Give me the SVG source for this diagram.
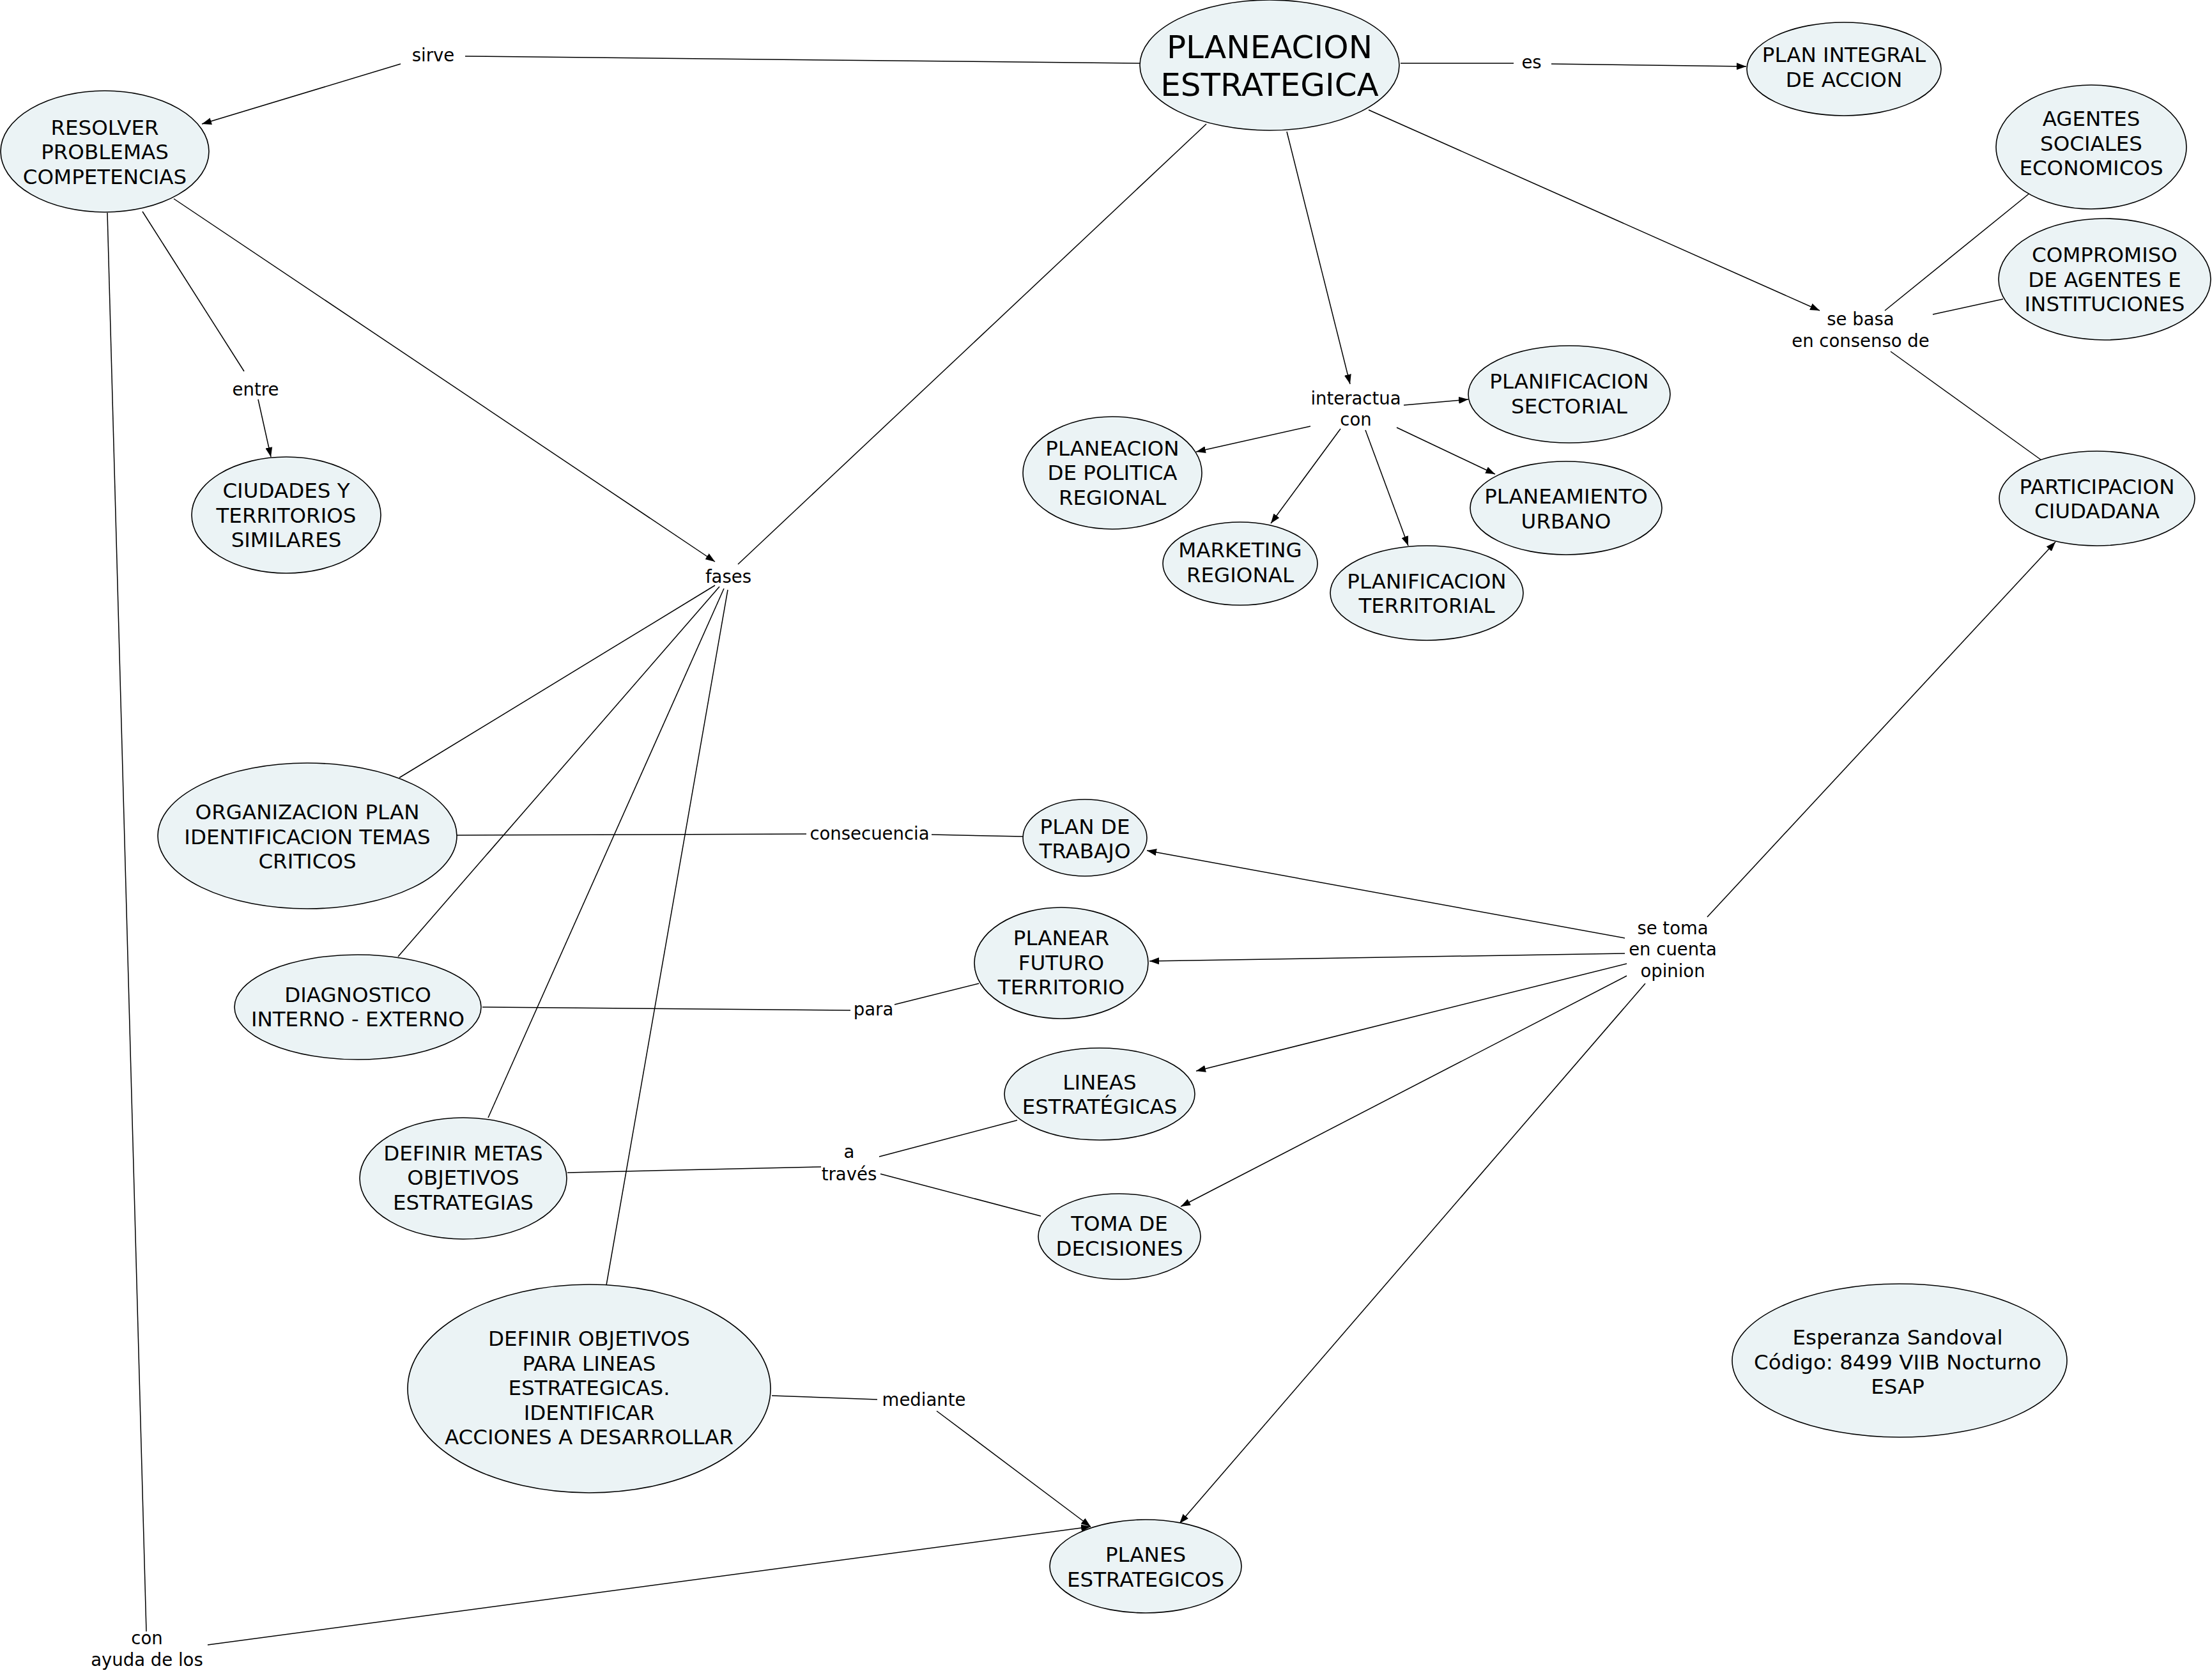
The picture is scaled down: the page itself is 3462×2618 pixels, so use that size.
<svg xmlns="http://www.w3.org/2000/svg" width="3462" height="2618" viewBox="0 0 3462 2618">
<defs>
<style>
.n ellipse{fill:#ebf3f5;stroke:#000;stroke-width:1.6}
.n text{font-family:"DejaVu Sans","Liberation Sans",sans-serif;font-size:32.5px;text-anchor:middle;fill:#000}
.l text{font-family:"DejaVu Sans","Liberation Sans",sans-serif;font-size:27.5px;text-anchor:middle;fill:#000}
#connectors line{stroke:#000;stroke-width:1.5;fill:none}
#connectors line.a{marker-end:url(#ah)}
</style>
<marker id="ah" markerWidth="15" markerHeight="11" refX="15" refY="5.5" orient="auto" markerUnits="userSpaceOnUse">
<path d="M0,0 L15,5.5 L0,11 z" fill="#000"/>
</marker>
</defs>
<rect width="3462" height="2618" fill="#fff"/>

<g id="connectors">
<line x1="1786" y1="99" x2="728" y2="88"/>
<line class="a" x1="627" y1="100" x2="316" y2="194"/>
<line x1="2192" y1="99" x2="2369" y2="99"/>
<line class="a" x1="2428" y1="100" x2="2733" y2="104"/>
<line class="a" x1="2014" y1="206" x2="2113" y2="601"/>
<line class="a" x1="2197" y1="634" x2="2298" y2="625"/>
<line class="a" x1="2051" y1="667" x2="1872" y2="707"/>
<line class="a" x1="2098" y1="671" x2="1989" y2="819"/>
<line class="a" x1="2137" y1="673" x2="2204" y2="854"/>
<line class="a" x1="2186" y1="669" x2="2340" y2="742"/>
<line class="a" x1="2142" y1="172" x2="2848" y2="486"/>
<line x1="2950" y1="486" x2="3182" y2="298"/>
<line x1="3025" y1="492" x2="3135" y2="468"/>
<line x1="2959" y1="550" x2="3195" y2="720"/>
<line x1="223" y1="331" x2="382" y2="581"/>
<line class="a" x1="404" y1="625" x2="424" y2="715"/>
<line class="a" x1="272" y1="311" x2="1119" y2="879"/>
<line x1="1888" y1="194" x2="1155" y2="883"/>
<line x1="1119" y1="916" x2="625" y2="1217"/>
<line x1="1126" y1="918" x2="623" y2="1497"/>
<line x1="1133" y1="921" x2="764" y2="1749"/>
<line x1="1139" y1="923" x2="949" y2="2011"/>
<line x1="715" y1="1307" x2="1262" y2="1305"/>
<line x1="1458" y1="1306" x2="1601" y2="1309"/>
<line x1="755" y1="1576" x2="1331" y2="1581"/>
<line x1="1400" y1="1572" x2="1532" y2="1539"/>
<line x1="888" y1="1835" x2="1285" y2="1826"/>
<line x1="1376" y1="1810" x2="1592" y2="1753"/>
<line x1="1378" y1="1837" x2="1629" y2="1903"/>
<line class="a" x1="2672" y1="1435" x2="3217" y2="848"/>
<line class="a" x1="2543" y1="1468" x2="1795" y2="1331"/>
<line class="a" x1="2543" y1="1492" x2="1799" y2="1504"/>
<line class="a" x1="2546" y1="1508" x2="1872" y2="1676"/>
<line class="a" x1="2546" y1="1527" x2="1848" y2="1888"/>
<line class="a" x1="2575" y1="1539" x2="1846" y2="2384"/>
<line x1="1208" y1="2184" x2="1373" y2="2190"/>
<line class="a" x1="1466" y1="2208" x2="1707" y2="2389"/>
<line x1="168" y1="333" x2="229" y2="2553"/>
<line class="a" x1="325" y1="2574" x2="1707" y2="2389"/>
</g>

<g id="n-planeacion" class="n">
<ellipse cx="1987" cy="102" rx="203" ry="102"/>
<text style="font-size:50px"><tspan x="1987" y="91">PLANEACION</tspan><tspan x="1987" y="150">ESTRATEGICA</tspan></text>
</g>
<g id="n-resolver" class="n">
<ellipse cx="164" cy="237" rx="163" ry="95"/>
<text><tspan x="164" y="210.5">RESOLVER</tspan><tspan x="164" y="249">PROBLEMAS</tspan><tspan x="164" y="287.5">COMPETENCIAS</tspan></text>
</g>
<g id="n-planintegral" class="n">
<ellipse cx="2886" cy="108" rx="152" ry="73"/>
<text><tspan x="2886" y="97">PLAN INTEGRAL</tspan><tspan x="2886" y="136">DE ACCION</tspan></text>
</g>
<g id="n-agentes" class="n">
<ellipse cx="3273" cy="230" rx="149" ry="97"/>
<text><tspan x="3273" y="197">AGENTES</tspan><tspan x="3273" y="236">SOCIALES</tspan><tspan x="3273" y="274">ECONOMICOS</tspan></text>
</g>
<g id="n-compromiso" class="n">
<ellipse cx="3294" cy="437" rx="166" ry="95"/>
<text><tspan x="3294" y="410">COMPROMISO</tspan><tspan x="3294" y="449">DE AGENTES E</tspan><tspan x="3294" y="487">INSTITUCIONES</tspan></text>
</g>
<g id="n-participacion" class="n">
<ellipse cx="3282" cy="780" rx="153" ry="74"/>
<text><tspan x="3282" y="773">PARTICIPACION</tspan><tspan x="3282" y="811">CIUDADANA</tspan></text>
</g>
<g id="n-sectorial" class="n">
<ellipse cx="2456" cy="617" rx="158" ry="76"/>
<text><tspan x="2456" y="608">PLANIFICACION</tspan><tspan x="2456" y="647">SECTORIAL</tspan></text>
</g>
<g id="n-politica" class="n">
<ellipse cx="1741" cy="740" rx="140" ry="88"/>
<text><tspan x="1741" y="713">PLANEACION</tspan><tspan x="1741" y="751">DE POLITICA</tspan><tspan x="1741" y="790">REGIONAL</tspan></text>
</g>
<g id="n-urbano" class="n">
<ellipse cx="2451" cy="795" rx="150" ry="73"/>
<text><tspan x="2451" y="788">PLANEAMIENTO</tspan><tspan x="2451" y="827">URBANO</tspan></text>
</g>
<g id="n-marketing" class="n">
<ellipse cx="1941" cy="882" rx="121" ry="65"/>
<text><tspan x="1941" y="872">MARKETING</tspan><tspan x="1941" y="911">REGIONAL</tspan></text>
</g>
<g id="n-territorial" class="n">
<ellipse cx="2233" cy="928" rx="151" ry="74"/>
<text><tspan x="2233" y="921">PLANIFICACION</tspan><tspan x="2233" y="959">TERRITORIAL</tspan></text>
</g>
<g id="n-ciudades" class="n">
<ellipse cx="448" cy="806" rx="148" ry="91"/>
<text><tspan x="448" y="779">CIUDADES Y</tspan><tspan x="448" y="817.5">TERRITORIOS</tspan><tspan x="448" y="856">SIMILARES</tspan></text>
</g>
<g id="n-organizacion" class="n">
<ellipse cx="481" cy="1308" rx="234" ry="114"/>
<text><tspan x="481" y="1282">ORGANIZACION PLAN</tspan><tspan x="481" y="1321">IDENTIFICACION TEMAS</tspan><tspan x="481" y="1359">CRITICOS</tspan></text>
</g>
<g id="n-plantrabajo" class="n">
<ellipse cx="1698" cy="1311" rx="97" ry="60"/>
<text><tspan x="1698" y="1305">PLAN DE</tspan><tspan x="1698" y="1343">TRABAJO</tspan></text>
</g>
<g id="n-planear" class="n">
<ellipse cx="1661" cy="1507" rx="136" ry="87"/>
<text><tspan x="1661" y="1479">PLANEAR</tspan><tspan x="1661" y="1517.5">FUTURO</tspan><tspan x="1661" y="1556">TERRITORIO</tspan></text>
</g>
<g id="n-diagnostico" class="n">
<ellipse cx="560" cy="1576" rx="193" ry="82"/>
<text><tspan x="560" y="1567.5">DIAGNOSTICO</tspan><tspan x="560" y="1606">INTERNO - EXTERNO</tspan></text>
</g>
<g id="n-lineas" class="n">
<ellipse cx="1721" cy="1712" rx="149" ry="72"/>
<text><tspan x="1721" y="1704.5">LINEAS</tspan><tspan x="1721" y="1743">ESTRATÉGICAS</tspan></text>
</g>
<g id="n-metas" class="n">
<ellipse cx="725" cy="1844" rx="162" ry="95"/>
<text><tspan x="725" y="1815.5">DEFINIR METAS</tspan><tspan x="725" y="1854">OBJETIVOS</tspan><tspan x="725" y="1892.5">ESTRATEGIAS</tspan></text>
</g>
<g id="n-toma" class="n">
<ellipse cx="1752" cy="1935" rx="127" ry="67"/>
<text><tspan x="1752" y="1926">TOMA DE</tspan><tspan x="1752" y="1965">DECISIONES</tspan></text>
</g>
<g id="n-objetivos" class="n">
<ellipse cx="922" cy="2173" rx="284" ry="163"/>
<text><tspan x="922" y="2106">DEFINIR OBJETIVOS</tspan><tspan x="922" y="2144.5">PARA LINEAS</tspan><tspan x="922" y="2183">ESTRATEGICAS.</tspan><tspan x="922" y="2221.5">IDENTIFICAR</tspan><tspan x="922" y="2260">ACCIONES A DESARROLLAR</tspan></text>
</g>
<g id="n-planes" class="n">
<ellipse cx="1793" cy="2451" rx="150" ry="73"/>
<text><tspan x="1793" y="2444">PLANES</tspan><tspan x="1793" y="2483">ESTRATEGICOS</tspan></text>
</g>
<g id="n-autor" class="n">
<ellipse cx="2973" cy="2129" rx="262" ry="120"/>
<text><tspan x="2970" y="2104">Esperanza Sandoval</tspan><tspan x="2970" y="2142.5">Código: 8499 VIIB Nocturno</tspan><tspan x="2970" y="2181">ESAP</tspan></text>
</g>

<g id="l-sirve" class="l"><text x="678" y="96">sirve</text></g>
<g id="l-es" class="l"><text x="2397" y="107">es</text></g>
<g id="l-sebasa" class="l"><text><tspan x="2912" y="509">se basa</tspan><tspan x="2912" y="543">en consenso de</tspan></text></g>
<g id="l-interactua" class="l"><text><tspan x="2122" y="633">interactua</tspan><tspan x="2122" y="666">con</tspan></text></g>
<g id="l-entre" class="l"><text x="400" y="619">entre</text></g>
<g id="l-fases" class="l"><text x="1140" y="912">fases</text></g>
<g id="l-consecuencia" class="l"><text x="1361" y="1314">consecuencia</text></g>
<g id="l-para" class="l"><text x="1367" y="1589">para</text></g>
<g id="l-atraves" class="l"><text><tspan x="1329" y="1812">a</tspan><tspan x="1329" y="1847">través</tspan></text></g>
<g id="l-setoma" class="l"><text><tspan x="2618" y="1462">se toma</tspan><tspan x="2618" y="1495">en cuenta</tspan><tspan x="2618" y="1529">opinion</tspan></text></g>
<g id="l-mediante" class="l"><text x="1446" y="2200">mediante</text></g>
<g id="l-con" class="l"><text><tspan x="230" y="2573">con</tspan><tspan x="230" y="2607">ayuda de los</tspan></text></g>
</svg>
